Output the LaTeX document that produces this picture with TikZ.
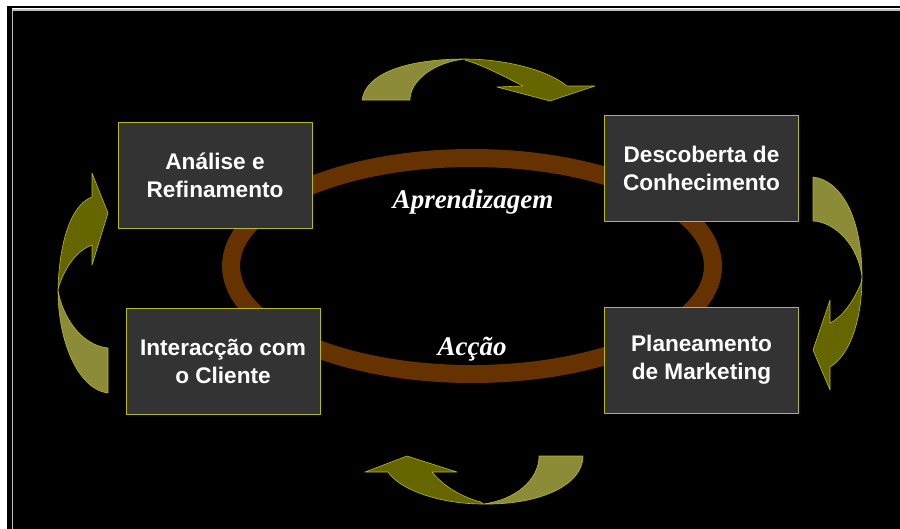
\documentclass[tikz,border=0pt]{standalone}
\usepackage{fontspec}
\setmainfont{Liberation Sans}
\newfontfamily\serifit{Liberation Serif}
\usepackage{tikz}
\definecolor{zzzzzz}{rgb}{0.2,0.2,0.2}
\definecolor{ttzzqq}{rgb}{0.4,0.2,0.}
\definecolor{ttttqq}{rgb}{0.4,0.4,0.}
\definecolor{cececc}{rgb}{0.55,0.55,0.22}
\definecolor{bbbbqq}{rgb}{0.72,0.72,0.15}
\definecolor{wwwwww}{rgb}{0.75,0.75,0.75}
\tikzset{
  boxnode/.style={draw=bbbbqq,line width=1pt,fill=zzzzzz,text=white,align=center,
    font=\bfseries\fontsize{22.6}{28}\selectfont,minimum width=194,minimum height=106,inner sep=0pt},
  ringlabel/.style={text=white,anchor=base,font=\serifit\bfseries\itshape\fontsize{27}{30}\selectfont},
  lightpart/.style={fill=cececc,draw=bbbbqq,line width=0.6pt},
  darkpart/.style={fill=ttttqq,draw=bbbbqq,line width=0.6pt}
}
\begin{document}
\begin{tikzpicture}[line cap=round,line join=round,x=1pt,y=-1pt]
\useasboundingbox (0,0) rectangle (900,528);
\clip (0,0) rectangle (900,528);
% frame
\fill[white] (0,0) rectangle (900,528);
\fill[black] (7,6) rectangle (910,540);
\fill[white] (11.5,8.3) rectangle (910,540);
\fill[wwwwww] (12.2,9.3) rectangle (910,540);
\fill[black] (13.2,10.7) rectangle (910,540);
% ring
\draw[ttzzqq,line width=18pt] (472,266) ellipse (241 and 108);
% top arrow
\filldraw[lightpart] (362,100) .. controls (366,72) and (410,59) .. (465,59) .. controls (435,62) and (410,80) .. (410,100) -- cycle;
\filldraw[darkpart] (465,59) .. controls (500,59) and (545,68) .. (567,86) -- (595,86) -- (550,101) -- (497,87) -- (523,86) .. controls (505,77) and (485,66) .. (465,60) -- cycle;
% right arrow
\filldraw[lightpart] (813,177) .. controls (840,180) and (862,215) .. (862,277) .. controls (858,245) and (835,222) .. (813,221) -- cycle;
\filldraw[darkpart] (862,277) .. controls (862,320) and (850,355) .. (830,367) -- (830,390) -- (813,350) -- (830,300) -- (830,323) .. controls (840,318) and (852,305) .. (861,283) -- cycle;
% bottom arrow
\filldraw[lightpart] (583,456) .. controls (583,485) and (540,505) .. (483,504) .. controls (515,500) and (539,480) .. (539,456) -- cycle;
\filldraw[darkpart] (483,504) .. controls (440,504) and (400,490) .. (388,472) -- (365,472) -- (407,456) -- (457,472) -- (432,472) .. controls (445,488) and (465,498) .. (481,502) -- cycle;
% left arrow
\filldraw[lightpart] (108,393) .. controls (80,390) and (58,345) .. (58,290) .. controls (62,315) and (80,345) .. (108,348) -- cycle;
\filldraw[darkpart] (58,290) .. controls (59,245) and (70,205) .. (92,197) -- (92,173) -- (108,213) -- (92,265) -- (92,245) .. controls (78,250) and (66,265) .. (59,286) -- cycle;
% boxes
\node[boxnode] (analise) at (215,175) {Análise e\\Refinamento};
\node[boxnode] (descoberta) at (701.5,168) {Descoberta de\\Conhecimento};
\node[boxnode] (interaccao) at (223,361.5) {Interacção com\\o Cliente};
\node[boxnode] (planeamento) at (701.5,360) {Planeamento\\de Marketing};
% labels
\node[ringlabel] (aprendizagem) at (473,208) {Aprendizagem};
\node[ringlabel] (accao) at (472,355) {Acção};
\end{tikzpicture}
\end{document}
